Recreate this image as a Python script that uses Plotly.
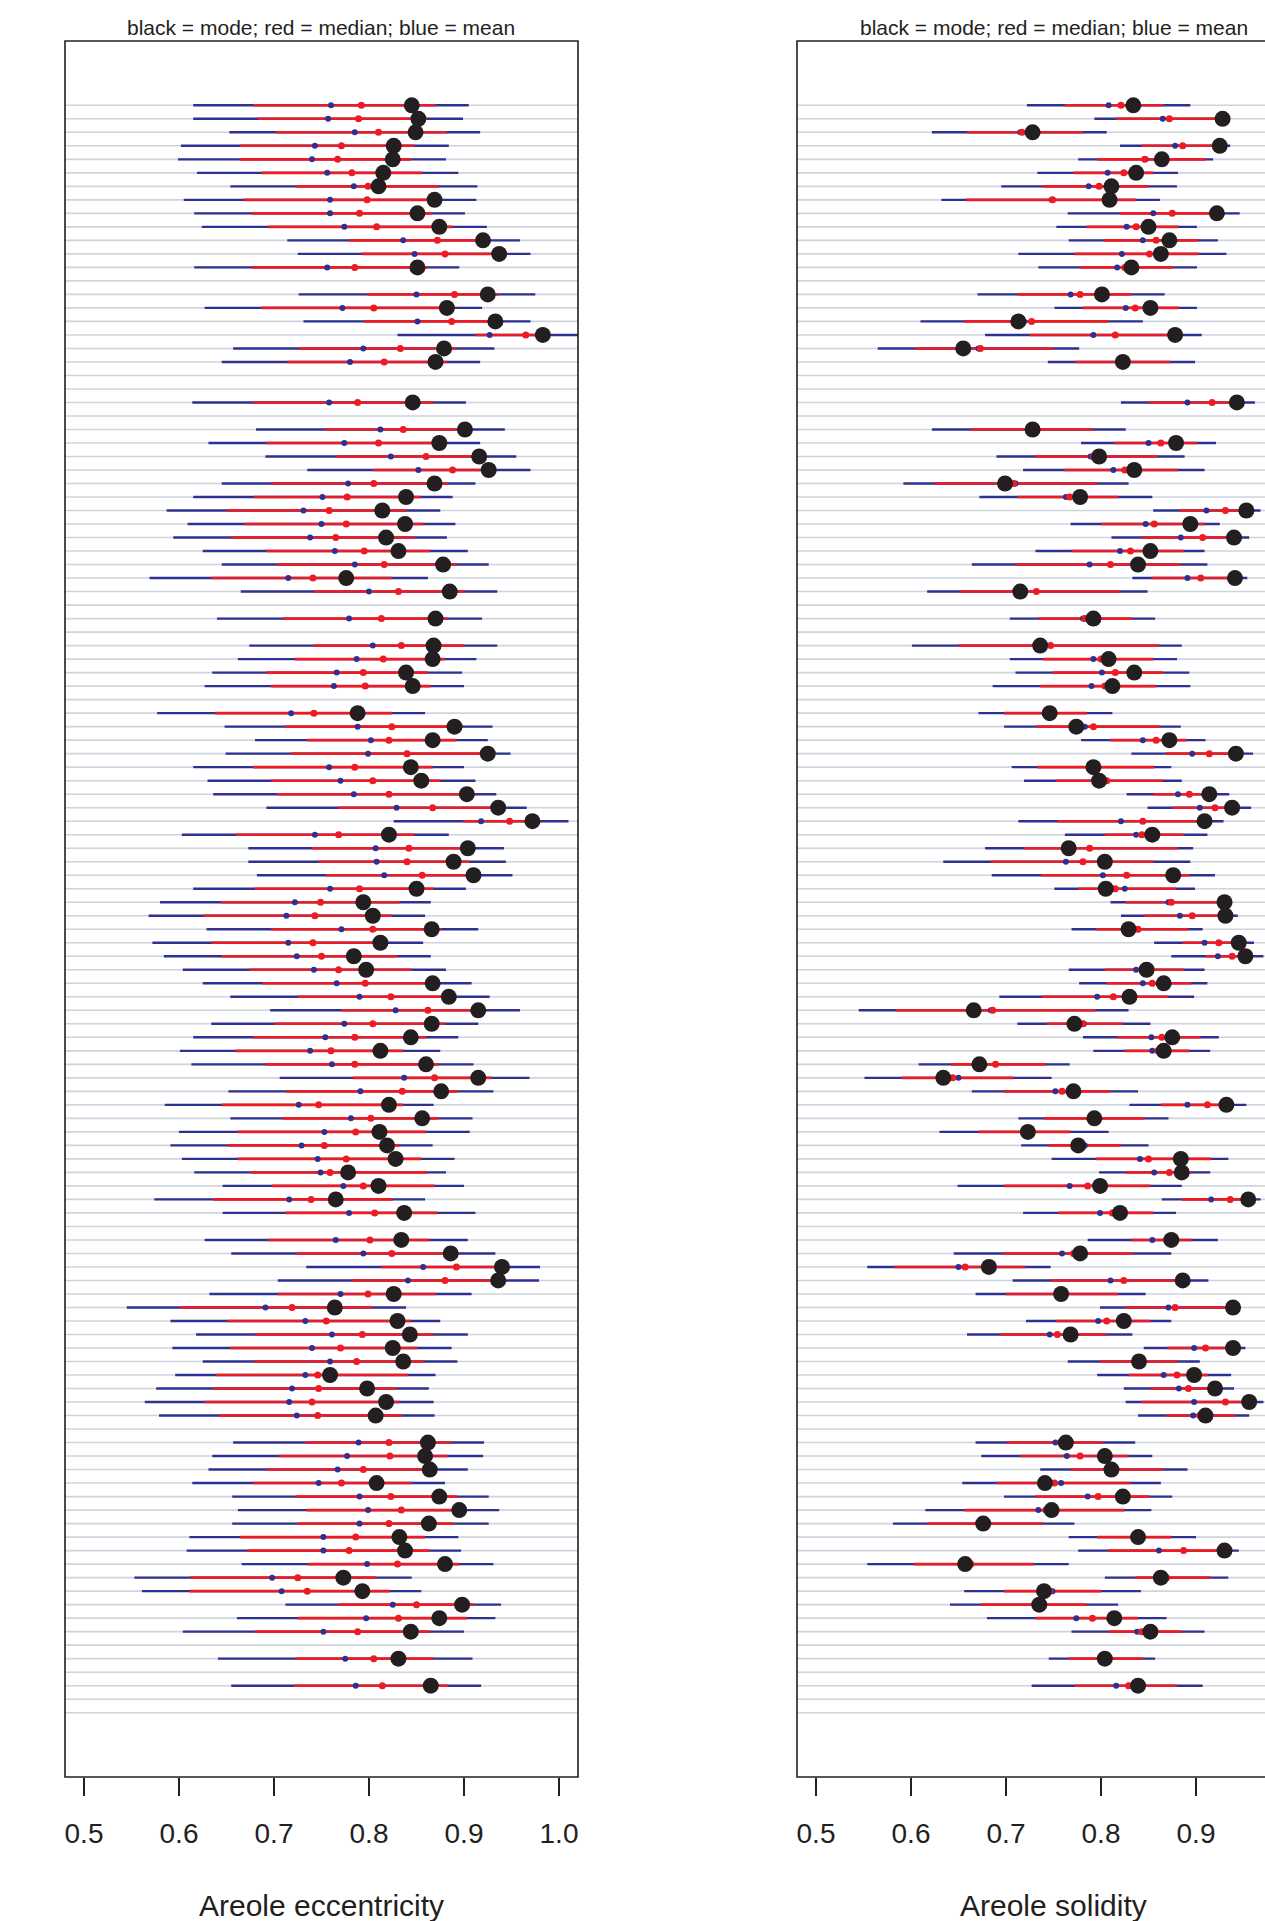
import plotly.graph_objects as go

N = None
N_ROWS = 120
rows = list(range(1, N_ROWS + 1))

# ---- Areole eccentricity: interval ends and point summaries per row ----
ecc_lo95 = [.615, .615, .653, .602, .599, .619, .654, .605, .616, .624,
            .714, .725, .616, N, .726, .627, .731, .830, .657, .645,
            N, N, .614, N, .681, .631, .691, .735, .645, .615,
            .587, .609, .594, .625, .645, .569, .665, N, .640, N,
            .674, .662, .635, .627, N, .577, .648, .680, .649, .615,
            .630, .636, .692, .826, .603, .673, .673, .682, .615, .580,
            .568, .629, .572, .584, .604, .625, .654, .696, .634, .615,
            .601, .613, .706, .652, .585, .654, .600, .591, .603, .616,
            .646, .574, .646, N, .627, .655, .734, .704, .632, .545,
            .591, .618, .593, .625, .596, .576, .564, .579, N, .657,
            .635, .631, .614, .656, .662, .656, .611, .608, .666, .553,
            .561, .712, .661, .604, N, .641, N, .655, N, N]
ecc_lo50 = [.678, .683, .702, .664, .664, .687, .723, .668, .677, .694,
            .779, .792, .677, N, .798, .687, .795, .912, .726, .714,
            N, N, .678, N, .753, .692, .766, .804, .697, .679,
            .650, .669, .655, .692, .703, .634, .742, N, .709, N,
            .742, .722, .692, .697, N, .638, .712, .735, .718, .678,
            .697, .703, .767, .899, .660, .740, .747, .755, .680, .644,
            .626, .697, .634, .645, .674, .688, .725, .771, .700, .678,
            .660, .691, .783, .713, .645, .709, .662, .651, .662, .676,
            .698, .636, .712, N, .694, .723, .813, .782, .704, .601,
            .651, .680, .654, .679, .639, .636, .627, .642, N, .733,
            .705, .692, .678, .723, .734, .725, .664, .672, .736, .612,
            .611, .768, .725, .680, N, .723, N, .721, N, N]
ecc_mean = [.760, .757, .785, .743, .740, .756, .784, .759, .759, .774,
            .836, .848, .756, N, .850, .772, .851, .927, .794, .780,
            N, N, .758, N, .812, .774, .823, .852, .778, .751,
            .731, .750, .738, .764, .785, .715, .800, N, .779, N,
            .804, .787, .766, .763, N, .718, .788, .802, .799, .758,
            .770, .784, .829, .918, .743, .807, .808, .816, .759, .722,
            .713, .771, .715, .724, .742, .766, .790, .828, .774, .754,
            .738, .761, .837, .791, .726, .781, .753, .729, .746, .749,
            .773, .716, .779, N, .765, .794, .857, .841, .770, .691,
            .733, .761, .740, .759, .733, .719, .716, .724, N, .789,
            .777, .767, .747, .790, .799, .790, .752, .752, .798, .698,
            .708, .825, .797, .752, N, .775, N, .786, N, N]
ecc_median = [.792, .789, .810, .771, .767, .782, .799, .798, .790, .808,
              .872, .880, .785, N, .890, .805, .887, .965, .833, .816,
              N, N, .788, N, .836, .810, .860, .888, .805, .777,
              .758, .776, .765, .795, .816, .741, .831, N, .813, N,
              .834, .815, .794, .796, N, .742, .824, .821, .840, .785,
              .804, .821, .867, .948, .768, .842, .840, .856, .790, .749,
              .743, .804, .741, .750, .768, .796, .823, .862, .804, .785,
              .760, .785, .869, .835, .747, .802, .786, .753, .776, .759,
              .794, .739, .806, N, .801, .824, .892, .880, .799, .719,
              .755, .793, .770, .787, .746, .747, .740, .746, N, .821,
              .822, .794, .771, .823, .834, .821, .786, .779, .830, .725,
              .735, .850, .831, .788, N, .805, N, .814, N, N]
ecc_mode = [.845, .852, .849, .826, .825, .815, .810, .869, .851, .874,
            .920, .937, .851, N, .925, .882, .933, .983, .879, .870,
            N, N, .846, N, .901, .874, .916, .926, .869, .839,
            .814, .838, .818, .831, .878, .776, .885, N, .870, N,
            .868, .867, .839, .846, N, .788, .890, .867, .925, .844,
            .855, .903, .936, .972, .821, .904, .889, .910, .850, .794,
            .804, .866, .812, .784, .797, .867, .884, .915, .866, .844,
            .812, .860, .915, .876, .821, .856, .811, .819, .828, .778,
            .810, .765, .837, N, .834, .886, .940, .936, .826, .764,
            .830, .843, .825, .836, .759, .798, .818, .807, N, .862,
            .859, .864, .808, .874, .895, .863, .832, .838, .880, .773,
            .793, .898, .874, .844, N, .831, N, .865, N, N]
ecc_hi50 = [.870, .861, .882, .848, .844, .856, .873, .876, .866, .888,
            .928, .945, .862, N, .936, .890, .941, .988, .892, .882,
            N, N, .868, N, .908, .882, .924, .934, .883, .854,
            .840, .857, .848, .864, .892, .824, .901, N, .882, N,
            .900, .880, .862, .865, N, .824, .899, .892, .933, .867,
            .875, .912, .944, .981, .848, .911, .906, .917, .868, .832,
            .824, .876, .820, .830, .845, .874, .891, .923, .880, .860,
            .836, .873, .929, .893, .836, .873, .860, .832, .855, .861,
            .869, .825, .872, N, .864, .895, .947, .943, .870, .804,
            .844, .868, .851, .858, .841, .829, .832, .835, N, .887,
            .883, .870, .845, .893, .902, .889, .859, .864, .895, .807,
            .822, .910, .903, .864, N, .868, N, .883, N, N]
ecc_hi95 = [.905, .899, .917, .884, .881, .894, .914, .913, .901, .924,
            .959, .970, .895, N, .975, .919, .970, 1.03, .932, .917,
            N, N, .902, N, .943, .917, .955, .970, .912, .888,
            .875, .891, .882, .904, .926, .862, .935, N, .919, N,
            .935, .913, .898, .900, N, .859, .930, .925, .949, .900,
            .912, .934, .966, 1.010, .884, .942, .944, .951, .902, .865,
            .859, .915, .857, .865, .881, .908, .927, .959, .915, .894,
            .875, .910, .969, .931, .868, .909, .906, .867, .890, .881,
            .900, .859, .912, N, .904, .933, .980, .979, .908, .839,
            .875, .904, .887, .893, .870, .863, .868, .869, N, .921,
            .920, .904, .880, .926, .937, .926, .894, .897, .931, .845,
            .855, .939, .933, .900, N, .909, N, .918, N, N]

# ---- Areole solidity ----
sol_lo95 = [.722, .793, .622, .820, .776, .733, .695, .632, .765, .753,
            .766, .713, .734, N, .670, .751, .610, .678, .565, .744,
            N, N, .821, N, .622, .779, .690, .718, .592, .672,
            .855, .768, .811, .731, .664, .833, .617, N, .704, N,
            .601, .704, .710, .686, N, .671, .698, .779, .832, .706,
            .719, .827, .849, .713, .762, .678, .634, .685, .751, .810,
            .821, .769, .856, .874, .766, .777, .693, .545, .712, .781,
            .792, .608, .551, .664, .830, .713, .630, .716, .748, .798,
            .649, .864, .718, N, .786, .645, .554, .707, .668, .799,
            .721, .659, .845, .765, .796, .824, .826, .839, N, .668,
            .674, .736, .654, .698, .615, .581, .766, .776, .554, .804,
            .656, .641, .680, .769, N, .745, N, .727, N, N]
sol_lo50 = [.762, .816, .659, .843, .796, .771, .739, .658, .820, .785,
            .803, .772, .778, N, .712, .781, .656, .725, .604, .773,
            N, N, .850, N, .663, .814, .730, .761, .625, .712,
            .883, .800, .843, .769, .710, .853, .652, N, .734, N,
            .650, .739, .749, .736, N, .698, .732, .810, .868, .733,
            .753, .855, .875, .754, .804, .719, .684, .737, .776, .826,
            .846, .795, .886, .910, .804, .806, .738, .584, .743, .817,
            .825, .642, .590, .698, .863, .740, .671, .745, .795, .826,
            .698, .885, .755, N, .832, .696, .583, .747, .700, .826,
            .753, .694, .870, .799, .829, .852, .842, .869, N, .701,
            .715, .768, .690, .731, .656, .617, .796, .807, .603, .836,
            .698, .673, .731, .808, N, .766, N, .772, N, N]
sol_mean = [.808, .865, .715, .878, .847, .807, .787, .748, .855, .827,
            .844, .822, .817, N, .768, .826, .719, .792, .671, .822,
            N, N, .891, N, .726, .850, .789, .813, .710, .763,
            .911, .847, .884, .820, .788, .891, .716, N, .781, N,
            .737, .792, .801, .790, N, .744, .783, .844, .896, .791,
            .797, .881, .904, .821, .837, .788, .763, .802, .825, .871,
            .883, .837, .909, .923, .837, .844, .796, .684, .782, .853,
            .854, .689, .650, .752, .891, .792, .721, .783, .841, .856,
            .767, .916, .799, N, .854, .759, .650, .810, .757, .871,
            .797, .746, .898, .836, .866, .882, .898, .897, N, .752,
            .764, .807, .758, .786, .734, .676, .834, .861, .660, .867,
            .749, .734, .774, .838, N, .804, N, .816, N, N]
sol_median = [.821, .872, .717, .886, .846, .824, .798, .749, .875, .837,
              .858, .851, .825, N, .778, .836, .727, .815, .673, .823,
              N, N, .917, N, .728, .863, .792, .825, .708, .767,
              .931, .856, .907, .831, .810, .905, .732, N, .783, N,
              .747, .800, .815, .804, N, .746, .792, .858, .914, .792,
              .806, .893, .920, .844, .843, .788, .781, .827, .815, .874,
              .896, .839, .924, .938, .843, .854, .813, .686, .781, .864,
              .860, .689, .644, .759, .912, .794, .724, .779, .850, .872,
              .786, .936, .812, N, .869, .771, .657, .824, .758, .878,
              .806, .754, .910, .837, .880, .892, .931, .904, N, .758,
              .778, .809, .751, .797, .742, .676, .836, .887, .663, .869,
              .746, .735, .791, .843, N, .804, N, .829, N, N]
sol_mode = [.834, .928, .728, .925, .864, .837, .811, .809, .922, .850,
            .872, .863, .832, N, .801, .852, .713, .878, .655, .823,
            N, N, .943, N, .728, .879, .798, .835, .699, .778,
            .953, .894, .940, .852, .839, .941, .715, N, .792, N,
            .736, .808, .835, .812, N, .746, .774, .872, .942, .792,
            .798, .914, .938, .909, .854, .766, .804, .876, .805, .930,
            .931, .829, .945, .952, .848, .866, .830, .666, .772, .875,
            .866, .672, .634, .771, .932, .793, .723, .776, .884, .885,
            .799, .955, .820, N, .874, .778, .682, .886, .758, .939,
            .824, .768, .939, .840, .898, .920, .956, .910, N, .763,
            .804, .811, .741, .823, .748, .676, .839, .930, .657, .863,
            .740, .735, .814, .852, N, .804, N, .839, N, N]
sol_hi50 = [.866, .922, .781, .929, .910, .855, .850, .837, .930, .881,
            .902, .903, .876, N, .832, .882, .808, .870, .750, .873,
            N, N, .947, N, .791, .901, .860, .881, .796, .818,
            .959, .909, .948, .887, .884, .947, .820, N, .833, N,
            .861, .855, .865, .858, N, .785, .862, .890, .947, .856,
            .865, .920, .945, .913, .887, .881, .855, .893, .879, .932,
            .934, .892, .948, .957, .887, .895, .871, .794, .823, .905,
            .893, .742, .708, .809, .936, .846, .768, .821, .916, .895,
            .852, .959, .855, N, .895, .834, .720, .894, .818, .941,
            .852, .806, .943, .881, .913, .927, .959, .941, N, .802,
            .829, .865, .831, .851, .825, .739, .874, .938, .729, .915,
            .800, .785, .839, .885, N, .844, N, .880, N, N]
sol_hi95 = [.894, .931, .806, .936, .918, .881, .880, .862, .946, .901,
            .923, .932, .901, N, .867, .901, .844, .906, .777, .899,
            N, N, .962, N, .826, .921, .888, .909, .829, .854,
            .968, .925, .956, .909, .912, .954, .849, N, .857, N,
            .885, .880, .893, .894, N, .812, .884, .910, .960, .874,
            .885, .935, .958, .929, .912, .897, .894, .920, .899, .938,
            .944, .907, .961, .971, .909, .912, .898, .829, .852, .924,
            .915, .767, .748, .839, .953, .871, .808, .850, .934, .915,
            .885, .968, .879, N, .923, .874, .747, .913, .847, .947,
            .874, .833, .952, .904, .937, .940, .971, .956, N, .836,
            .854, .891, .863, .875, .853, .772, .900, .945, .766, .934,
            .842, .818, .869, .909, N, .857, N, .907, N, N]

title_text = "black = mode; red = median; blue = mean"
x_titles = ["Areole eccentricity", "Areole solidity"]
tick_vals = [0.5, 0.6, 0.7, 0.8, 0.9, 1.0]
tick_text = ["0.5", "0.6", "0.7", "0.8", "0.9", "1.0"]
x_lim = [0.48, 1.02]
y_lim = [124.76, -3.76]

W, H = 1265, 1921
INK = "#231f20"
BLUE = "#2e3192"
RED = "#ed1c24"
GUIDE = "#cfd3dc"
FONT = "Liberation Sans, Arial, Helvetica, sans-serif"

# panel geometry in pixels
panels = [
    dict(left=65, right=578, xa="x", ya="y"),
    dict(left=797, right=1310, xa="x2", ya="y2"),
]
top_px, bottom_px = 41, 1777


def segments(lo, hi):
    xs, ys = [], []
    for r, a, b in zip(rows, lo, hi):
        if a is None or b is None:
            continue
        xs += [a, b, None]
        ys += [r, r, None]
    return xs, ys


def points(vals):
    xs, ys = [], []
    for r, v in zip(rows, vals):
        if v is None:
            continue
        xs.append(v)
        ys.append(r)
    return xs, ys


fig = go.Figure()

datasets = [
    (ecc_lo95, ecc_lo50, ecc_mean, ecc_median, ecc_mode, ecc_hi50, ecc_hi95),
    (sol_lo95, sol_lo50, sol_mean, sol_median, sol_mode, sol_hi50, sol_hi95),
]

for p, (lo95, lo50, mean, median, mode, hi50, hi95) in zip(panels, datasets):
    xa, ya = p["xa"], p["ya"]
    # light guide line for every row
    gx, gy = [], []
    for r in rows:
        gx += [x_lim[0], x_lim[1], None]
        gy += [r, r, None]
    fig.add_trace(go.Scatter(x=gx, y=gy, mode="lines", xaxis=xa, yaxis=ya,
                             line=dict(color=GUIDE, width=1.6),
                             hoverinfo="skip", showlegend=False))
    bx, by = segments(lo95, hi95)
    fig.add_trace(go.Scatter(x=bx, y=by, mode="lines", xaxis=xa, yaxis=ya,
                             line=dict(color=BLUE, width=2.4),
                             hoverinfo="skip", showlegend=False))
    rx, ry = segments(lo50, hi50)
    fig.add_trace(go.Scatter(x=rx, y=ry, mode="lines", xaxis=xa, yaxis=ya,
                             line=dict(color=RED, width=2.6),
                             hoverinfo="skip", showlegend=False))
    mx, my = points(mean)
    fig.add_trace(go.Scatter(x=mx, y=my, mode="markers", xaxis=xa, yaxis=ya,
                             marker=dict(color=BLUE, size=6, line=dict(width=0)),
                             name="mean", showlegend=False))
    dx, dy = points(median)
    fig.add_trace(go.Scatter(x=dx, y=dy, mode="markers", xaxis=xa, yaxis=ya,
                             marker=dict(color=RED, size=7, line=dict(width=0)),
                             name="median", showlegend=False))
    ox, oy = points(mode)
    fig.add_trace(go.Scatter(x=ox, y=oy, mode="markers", xaxis=xa, yaxis=ya,
                             marker=dict(color=INK, size=16, line=dict(width=0)),
                             name="mode", showlegend=False))

y_dom = [1 - bottom_px / H, 1 - top_px / H]
axis_common = dict(
    tickvals=tick_vals, ticktext=tick_text, ticks="outside", ticklen=18,
    tickwidth=1.5, tickcolor=INK, showgrid=False, zeroline=False,
    showline=False, tickfont=dict(family=FONT, size=28, color=INK),
    ticklabelstandoff=13,
)
right_hi = x_lim[0] + (W - panels[1]["left"]) * (x_lim[1] - x_lim[0]) / (
    panels[1]["right"] - panels[1]["left"])

fig.update_layout(
    width=W, height=H, margin=dict(l=0, r=0, t=0, b=0),
    paper_bgcolor="white", plot_bgcolor="white",
    xaxis=dict(domain=[panels[0]["left"] / W, panels[0]["right"] / W],
               range=x_lim, anchor="y", **axis_common),
    yaxis=dict(domain=y_dom, range=y_lim, visible=False),
    xaxis2=dict(domain=[panels[1]["left"] / W, 1.0],
                range=[x_lim[0], right_hi], anchor="y2", **axis_common),
    yaxis2=dict(domain=y_dom, range=y_lim, visible=False, anchor="x2"),
)

# plot frames
line_style = dict(color=INK, width=1.6)
fig.add_shape(type="rect", xref="paper", yref="paper",
              x0=panels[0]["left"] / W, x1=panels[0]["right"] / W,
              y0=y_dom[0], y1=y_dom[1], line=line_style, layer="above")
x0r = panels[1]["left"] / W
fig.add_shape(type="path", xref="paper", yref="paper",
              path=f"M 1.01,{y_dom[1]} L {x0r},{y_dom[1]} L {x0r},{y_dom[0]} L 1.01,{y_dom[0]}",
              line=line_style, layer="above")

for p, xt in zip(panels, x_titles):
    cx = (p["left"] + p["right"]) / 2 / W
    fig.add_annotation(text=title_text, xref="paper", yref="paper",
                       x=cx, y=1 - 27 / H, xanchor="center", yanchor="middle",
                       showarrow=False, font=dict(family=FONT, size=21, color=INK))
    fig.add_annotation(text=xt, xref="paper", yref="paper",
                       x=cx, y=1 - 1905 / H, xanchor="center", yanchor="middle",
                       showarrow=False, font=dict(family=FONT, size=30, color=INK))

fig.write_html("out.html")
